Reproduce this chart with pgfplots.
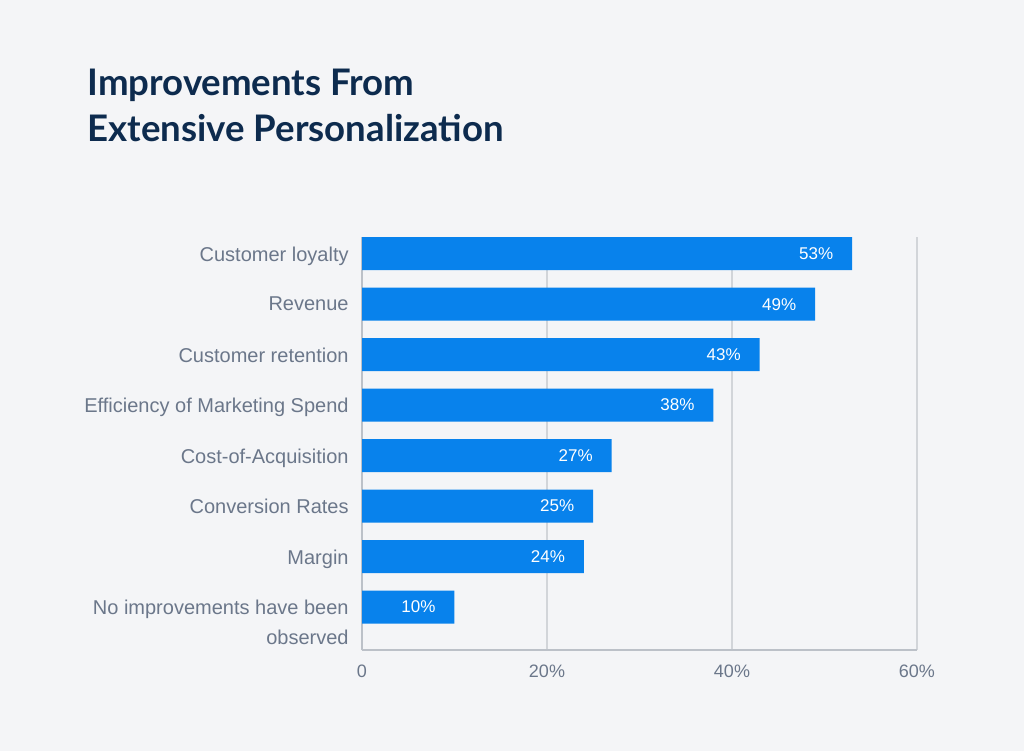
\documentclass[border=0pt]{standalone}
\usepackage{pgfplots}
\pgfplotsset{compat=1.18}
\usepackage{fontspec}
\setmainfont{Liberation Sans}
\newfontfamily\titlefont{Lato}
\definecolor{bg}{HTML}{F4F5F7}
\definecolor{titlec}{HTML}{0D2B4E}
\definecolor{tickc}{HTML}{6B778A}
\definecolor{barc}{HTML}{0882EC}
\definecolor{gridc}{HTML}{D2D5D9}
\definecolor{axisc}{HTML}{BCC1C8}
\begin{document}
\begin{tikzpicture}
\fill[bg] (0,0) rectangle (512pt,375.5pt);
\node[anchor=base west, align=left, font=\titlefont\bfseries\fontsize{18.3}{23}\selectfont, text=titlec, inner sep=0pt] at (43.5pt,304.5pt) {Improvements From\\Extensive Personalization};
\begin{axis}[
  at={(181pt,50.5pt)}, anchor=south west, scale only axis,
  width=277.5pt, height=206.5pt,
  xbar, bar width=16.5pt,
  xmin=0, xmax=60, ymin=-0.85, ymax=7.33,
  ytick={0,...,7},
  yticklabels={{No improvements have been\\observed},Margin,Conversion Rates,Cost-of-Acquisition,Efficiency of Marketing Spend,Customer retention,Revenue,Customer loyalty},
  xtick={0,20,40,60}, xticklabels={0,20\%,40\%,60\%},
  axis x line*=bottom, axis y line*=left,
  axis line style={draw=axisc,-, line width=0.6pt},
  xmajorgrids, grid style={draw=gridc, line width=0.6pt},
  major tick length=0pt,
  yticklabel style={align=right, text=tickc, font=\fontsize{10}{15}\selectfont, anchor=north east, inner sep=0pt, yshift=3.7pt, xshift=-6.5pt},
  xticklabel style={text=tickc, font=\fontsize{9}{11}\selectfont, yshift=-4pt},
  point meta=x,
  /pgf/number format/assume math mode=true,
  nodes near coords={\pgfmathprintnumber{\pgfplotspointmeta}\%},
  nodes near coords style={anchor=east, text=white, font=\fontsize{8.5}{10}\selectfont, xshift=-6pt},
]
\addplot[fill=barc, draw=none] coordinates {(53,7) (49,6) (43,5) (38,4) (27,3) (25,2) (24,1) (10,0)};
\end{axis}
\end{tikzpicture}
\end{document}
